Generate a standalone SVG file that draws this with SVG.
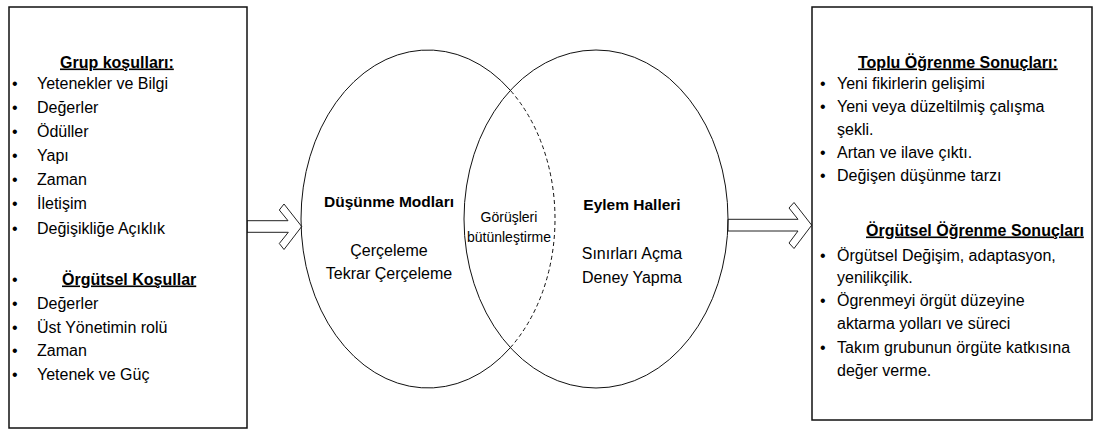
<svg xmlns="http://www.w3.org/2000/svg" width="1095" height="433" viewBox="0 0 1095 433">
<style>
text{font-family:"Liberation Sans",Arial,sans-serif;fill:#000}
.t{font-size:16px}
.h{font-size:16px;font-weight:bold;text-decoration:underline}
.hr{font-size:16px;font-weight:bold;text-decoration:underline}
.b{font-size:15.5px;font-weight:bold}
.s{font-size:14px}
.box{fill:#fff;stroke:#111;stroke-width:1.5}
.ell{fill:none;stroke:#111;stroke-width:1}
.arr{fill:#fff;stroke:#222;stroke-width:1;stroke-linejoin:miter}
</style>
<rect width="1095" height="433" fill="#fff"/>
<g id="connectors">
<polygon class="arr" points="247,220.7 288,220.7 279.3,210 284,204 301.7,226.5 284,249.5 279.3,243.5 288.3,232.3 247,232.3"/>
<polygon class="arr" points="728,219.3 798,219.3 789,208 794,202.5 811.7,225.2 794,248.5 789,243 798,231 728,231"/>
</g>
<g id="group-conditions">
<rect class="box" x="9" y="7" width="238" height="421"/>
<text class="h" x="60" y="67.5">Grup koşulları:</text>
<g class="t">
<text x="12" y="88.5">•</text><text x="37" y="88.5">Yetenekler ve Bilgi</text>
<text x="12" y="112.5">•</text><text x="37" y="112.5">Değerler</text>
<text x="12" y="136.5">•</text><text x="37" y="136.5">Ödüller</text>
<text x="12" y="160.5">•</text><text x="37" y="160.5">Yapı</text>
<text x="12" y="184.5">•</text><text x="37" y="184.5">Zaman</text>
<text x="12" y="208.5">•</text><text x="37" y="208.5">İletişim</text>
<text x="12" y="234">•</text><text x="37" y="234">Değişikliğe Açıklık</text>
<text x="12" y="284.5">•</text>
<text x="12" y="308.5">•</text><text x="37" y="308.5">Değerler</text>
<text x="12" y="332.5">•</text><text x="37" y="332.5">Üst Yönetimin rolü</text>
<text x="12" y="355.5">•</text><text x="37" y="355.5">Zaman</text>
<text x="12" y="379.5">•</text><text x="37" y="379.5">Yetenek ve Güç</text>
</g>
<text class="h" x="62" y="284.5">Örgütsel Koşullar</text>
</g>
<g id="thinking-modes">
<path class="ell" d="M510.4 90.4 A127 169 0 1 0 510.4 347.6"/>
<path class="ell" d="M510.4 347.6 A127 169 0 0 0 510.4 90.4" stroke-dasharray="4 3"/>
<text class="b" x="389" y="207" text-anchor="middle">Düşünme Modları</text>
<text class="t" x="389" y="255.5" text-anchor="middle">Çerçeleme</text>
<text class="t" x="389" y="278.5" text-anchor="middle">Tekrar Çerçeleme</text>
</g>
<g id="action-modes">
<ellipse class="ell" cx="596" cy="219" rx="132" ry="169"/>
<text class="b" x="632" y="210" text-anchor="middle">Eylem Halleri</text>
<text class="t" x="632" y="258.5" text-anchor="middle">Sınırları Açma</text>
<text class="t" x="632" y="282.5" text-anchor="middle">Deney Yapma</text>
</g>
<g id="integrating">
<text class="s" x="509" y="222" text-anchor="middle">Görüşleri</text>
<text class="s" x="509" y="242" text-anchor="middle">bütünleştirme</text>
</g>
<g id="learning-outcomes">
<rect class="box" x="812" y="7" width="280" height="413"/>
<text class="hr" x="858" y="67.5">Toplu Öğrenme Sonuçları:</text>
<g class="t">
<text x="820" y="89">•</text><text x="837" y="89">Yeni fikirlerin gelişimi</text>
<text x="820" y="112">•</text><text x="837" y="112">Yeni veya düzeltilmiş çalışma</text>
<text x="837" y="135">şekli.</text>
<text x="820" y="158">•</text><text x="837" y="158">Artan ve ilave çıktı.</text>
<text x="820" y="181">•</text><text x="837" y="181">Değişen düşünme tarzı</text>
<text x="820" y="260.5">•</text><text x="837" y="260.5">Örgütsel Değişim, adaptasyon,</text>
<text x="837" y="282.5">yenilikçilik.</text>
<text x="820" y="305.5">•</text><text x="837" y="305.5">Ögrenmeyi örgüt düzeyine</text>
<text x="837" y="328.5">aktarma yolları ve süreci</text>
<text x="820" y="352.5">•</text><text x="837" y="352.5">Takım grubunun örgüte katkısına</text>
<text x="837" y="375.5">değer verme.</text>
</g>
<text class="hr" x="866" y="235.5">Örgütsel Öğrenme Sonuçları</text>
</g>
</svg>
